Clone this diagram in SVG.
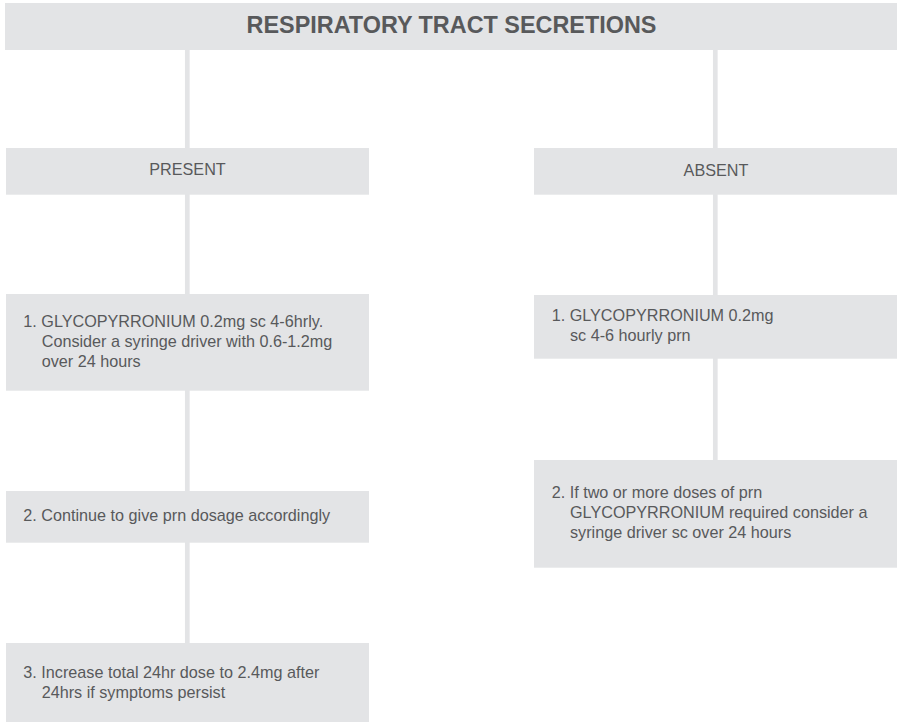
<svg xmlns="http://www.w3.org/2000/svg" width="897" height="722" viewBox="0 0 897 722">
<style>
.box{fill:#e3e4e6}
.t{font-family:"Liberation Sans",Arial,Helvetica,sans-serif;font-size:16.2px;fill:#58595b}
.title{font-family:"Liberation Sans",Arial,Helvetica,sans-serif;font-size:23.4px;font-weight:bold;fill:#58595b}
.c{stroke:#e3e4e6;stroke-width:4.7;fill:none}
</style>
<rect width="897" height="722" fill="#ffffff"/>
<g id="connectors">
<line class="c" x1="187.3" y1="50" x2="187.3" y2="148"/>
<line class="c" x1="187.3" y1="194" x2="187.3" y2="294"/>
<line class="c" x1="187.3" y1="390" x2="187.3" y2="491"/>
<line class="c" x1="187.3" y1="542" x2="187.3" y2="643"/>
<line class="c" x1="715.3" y1="50" x2="715.3" y2="148"/>
<line class="c" x1="715.3" y1="194" x2="715.3" y2="295"/>
<line class="c" x1="715.3" y1="358" x2="715.3" y2="460"/>
</g>
<g id="title">
<rect class="box" x="5" y="3" width="892" height="47"/>
<text class="title" x="451.5" y="33.3" text-anchor="middle">RESPIRATORY TRACT SECRETIONS</text>
</g>
<g id="present">
<rect class="box" x="6" y="148" width="363" height="46.7"/>
<text class="t" x="187.5" y="175" text-anchor="middle">PRESENT</text>
</g>
<g id="absent">
<rect class="box" x="534" y="148" width="363" height="46.7"/>
<text class="t" x="716" y="176" text-anchor="middle">ABSENT</text>
</g>
<g id="present-1">
<rect class="box" x="6" y="294" width="363" height="96.7"/>
<text class="t" x="23.3" y="327.3">1. GLYCOPYRRONIUM 0.2mg sc 4-6hrly.</text>
<text class="t" x="41.7" y="347.3">Consider a syringe driver with 0.6-1.2mg</text>
<text class="t" x="41.7" y="366.9">over 24 hours</text>
</g>
<g id="present-2">
<rect class="box" x="6" y="491" width="363" height="51.7"/>
<text class="t" x="23.3" y="520.7">2. Continue to give prn dosage accordingly</text>
</g>
<g id="present-3">
<rect class="box" x="6" y="643" width="363" height="79"/>
<text class="t" x="23.3" y="677.7">3. Increase total 24hr dose to 2.4mg after</text>
<text class="t" x="41.7" y="697.7">24hrs if symptoms persist</text>
</g>
<g id="absent-1">
<rect class="box" x="534" y="295" width="363" height="63.7"/>
<text class="t" x="551.7" y="321">1. GLYCOPYRRONIUM 0.2mg</text>
<text class="t" x="570" y="341">sc 4-6 hourly prn</text>
</g>
<g id="absent-2">
<rect class="box" x="534" y="460" width="363" height="107.7"/>
<text class="t" x="551.7" y="497.7">2. If two or more doses of prn</text>
<text class="t" x="570" y="517.7">GLYCOPYRRONIUM required consider a</text>
<text class="t" x="570" y="537.7">syringe driver sc over 24 hours</text>
</g>
</svg>
